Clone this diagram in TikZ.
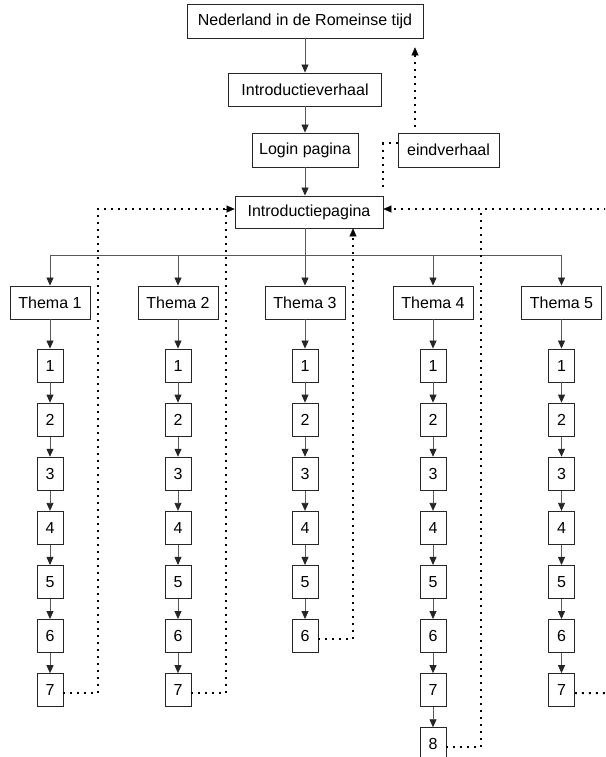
\documentclass[tikz,border=0pt]{standalone}
\usepackage{fontspec}
\setmainfont{Liberation Sans}
\usetikzlibrary{arrows.meta}
\begin{document}
\begin{tikzpicture}[x=1pt,y=-1pt,
  box/.style={draw=black!85,line width=0.9pt,fill=white,inner sep=0pt,font=\fontsize{16}{19}\selectfont},
  numbox/.style={box,minimum width=26pt,minimum height=33pt},
  thbox/.style={box,minimum width=80pt,minimum height=33pt},
  arr/.style={draw=black!65,line width=0.8pt,-{Triangle[width=7pt,length=8pt,color=black!85]}},
  dotln/.style={draw=black,line width=2pt,dash pattern=on 2pt off 5pt},
  dotarr/.style={dotln,-{Triangle[width=7pt,length=8pt,line width=0.1pt]}}
]
\clip (0,0) rectangle (605,757);
\fill[white] (0,0) rectangle (605,757);

% main column
\node[box,minimum width=236pt,minimum height=34pt] (title) at (305,21) {Nederland in de Romeinse tijd};
\node[box,minimum width=153pt,minimum height=33pt] (iverh) at (305,89.5) {Introductieverhaal};
\node[box,minimum width=106pt,minimum height=34pt] (login) at (305,150) {Login pagina};
\node[box,minimum width=101pt,minimum height=34pt] (eind) at (448.5,150) {eindverhaal};
\node[box,minimum width=148pt,minimum height=32pt] (ipag) at (309,212) {Introductiepagina};

\draw[arr] (title) -- (iverh);
\draw[arr] (iverh) -- (login);
\draw[arr] (login) -- (login |- ipag.north);

% themes
\coordinate (bus) at (305,255);
\foreach \c/\x/\n in {1/50/7,2/178/7,3/305/6,4/433/8,5/561.5/7}{
  \node[thbox] (t\c) at (\x,302.5) {Thema \c};
  \foreach \k in {1,...,\n}{
    \node[numbox] (n\c-\k) at (\x,{365.5+54.1*(\k-1)}) {\k};
  }
  \draw[arr] (t\c) -- (n\c-1);
  \foreach \k in {2,...,\n}{
    \pgfmathtruncatemacro\p{\k-1}
    \draw[arr] (n\c-\p) -- (n\c-\k);
  }
}
\draw[black!65,line width=0.8pt] (bus -| t1) -- (bus -| t5);
\draw[arr] (ipag.south -| t3) -- (t3.north);
\foreach \c in {1,2,4,5}{
  \draw[arr] (bus -| t\c) -- (t\c.north);
}

% dotted return connectors
\coordinate (c1) at (98,209);
\coordinate (c2) at (226,209);
\coordinate (c3) at (353,0);
\coordinate (c4) at (481,209);
\coordinate (re) at (606,209);
\coordinate (r5) at (606,693.1);
\coordinate (e) at (415,0);

\draw[dotarr] ([yshift=-3pt]n1-7.east) -| (c1) -- (c1 -| ipag.west);
\draw[dotln] ([yshift=-3pt]n2-7.east) -| (c2);
\draw[dotarr] ([yshift=-3pt]n3-6.east) -| (ipag.south -| c3);
\draw[dotarr] ([yshift=-3pt]n4-8.east) -| (c4) -- (c4 -| ipag.east);
\draw[dotln] (re) -- (c4);
\draw[dotln] ([yshift=-3pt]n5-7.east) -- (r5);

\draw[dotarr,shorten <=6pt,shorten >=9pt] (eind.north -| e) -- (title.south -| e);
\draw[dotln,shorten >=6pt] ([yshift=7pt]eind.west) -| (ipag.north east);
\end{tikzpicture}
\end{document}
